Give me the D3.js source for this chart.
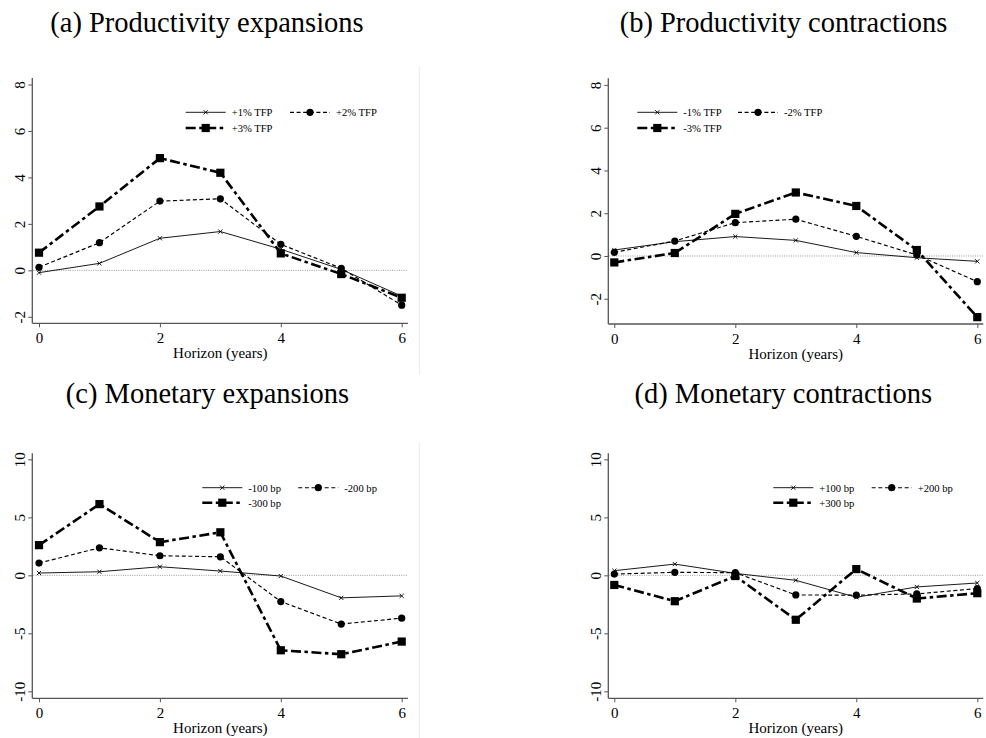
<!DOCTYPE html>
<html>
<head>
<meta charset="utf-8">
<script src="https://cdn.jsdelivr.net/npm/d3@7"></script>
<style>
  html, body { margin: 0; padding: 0; background: #fff; }
  svg { display: block; font-family: "Liberation Serif", "Times New Roman", serif; }
  svg text { font-family: "Liberation Serif", "Times New Roman", serif; }
</style>
</head>
<body>
<svg id="chart" width="986" height="738"></svg>
<script>
// ---------------- DATA ----------------
const horizon = [0, 1, 2, 3, 4, 5, 6];
const xTickValues = [0, 2, 4, 6];
const xLabel = "Horizon (years)";

const panelTitles = [
  "(a) Productivity expansions",
  "(b) Productivity contractions",
  "(c) Monetary expansions",
  "(d) Monetary contractions"
];

const yTicksProd = [-2, 0, 2, 4, 6, 8];
const yTicksMon = [-10, -5, 0, 5, 10];

// (a) Productivity expansions
const labelsA = ["+1% TFP", "+2% TFP", "+3% TFP"];
const tfpUp1 = [-0.10, 0.30, 1.38, 1.67, 0.91, 0.04, -1.11];
const tfpUp2 = [0.13, 1.19, 2.98, 3.08, 1.12, 0.09, -1.50];
const tfpUp3 = [0.76, 2.75, 4.83, 4.20, 0.73, -0.16, -1.18];

// (b) Productivity contractions
const labelsB = ["-1% TFP", "-2% TFP", "-3% TFP"];
const tfpDown1 = [0.28, 0.67, 0.91, 0.73, 0.16, -0.08, -0.25];
const tfpDown2 = [0.17, 0.70, 1.56, 1.72, 0.92, 0.05, -1.20];
const tfpDown3 = [-0.30, 0.14, 1.97, 2.97, 2.34, 0.28, -2.86];

// (c) Monetary expansions
const labelsC = ["-100 bp", "-200 bp", "-300 bp"];
const monExp1 = [0.20, 0.31, 0.74, 0.37, -0.06, -1.94, -1.77];
const monExp2 = [1.06, 2.37, 1.69, 1.60, -2.26, -4.20, -3.69];
const monExp3 = [2.60, 6.14, 2.86, 3.71, -6.46, -6.80, -5.71];

// (d) Monetary contractions
const labelsD = ["+100 bp", "+200 bp", "+300 bp"];
const monCon1 = [0.40, 0.97, 0.17, -0.43, -1.89, -1.00, -0.66];
const monCon2 = [0.11, 0.26, 0.23, -1.69, -1.71, -1.60, -1.14];
const monCon3 = [-0.83, -2.23, -0.06, -3.83, 0.54, -2.00, -1.54];

// ---------------- LAYOUT ----------------
const panels = [
  { title: panelTitles[0], titleX: 207, titleY: 32, axisX: 32.3, x0: 39, x6: 401.7, axisEnd: 408,
    yTop: 78, yBot: 323.3, domain: [-2.28, 8.28], ticks: yTicksProd,
    labels: labelsA, series: [tfpUp1, tfpUp2, tfpUp3],
    leg: { x1: 185.7, x2: 290, r1: 112.3, r2: 128 }, border: { x: 419.3, y1: 66, y2: 375 } },
  { title: panelTitles[1], titleX: 783.5, titleY: 32, axisX: 608.3, x0: 614.3, x6: 977.3, axisEnd: 983.3,
    yTop: 78.3, yBot: 324, domain: [-3.18, 8.31], ticks: yTicksProd,
    labels: labelsB, series: [tfpDown1, tfpDown2, tfpDown3],
    leg: { x1: 637.3, x2: 738, r1: 112.3, r2: 128 } },
  { title: panelTitles[2], titleX: 207.5, titleY: 403, axisX: 32.3, x0: 39, x6: 401.7, axisEnd: 408,
    yTop: 453.3, yBot: 698.3, domain: [-10.6, 10.52], ticks: yTicksMon,
    labels: labelsC, series: [monExp1, monExp2, monExp3],
    leg: { x1: 202.3, x2: 298.3, r1: 487.7, r2: 502.7 }, border: { x: 419.3, y1: 442, y2: 738 } },
  { title: panelTitles[3], titleX: 783.3, titleY: 403, axisX: 608.3, x0: 614.3, x6: 977.3, axisEnd: 983.3,
    yTop: 453.3, yBot: 698.3, domain: [-10.6, 10.52], ticks: yTicksMon,
    labels: labelsD, series: [monCon1, monCon2, monCon3],
    leg: { x1: 773.3, x2: 871.7, r1: 487.7, r2: 502.7 } }
];

const styles = [
  { width: 0.9, dash: null, marker: "x" },
  { width: 1.15, dash: "4,2.6", marker: "circle" },
  { width: 2.6, dash: "10,3.5,3.5,3.5", marker: "square" }
];

const FONT = "Liberation Serif";
const axisColor = "#555";
const svg = d3.select("#chart");

function drawMarker(g, kind, cx, cy) {
  if (kind === "x") {
    const s = 2.1;
    g.append("path")
      .attr("d", `M${cx - s},${cy - s}L${cx + s},${cy + s}M${cx - s},${cy + s}L${cx + s},${cy - s}`)
      .attr("stroke", "#000").attr("stroke-width", 0.9).attr("fill", "none");
  } else if (kind === "circle") {
    g.append("circle").attr("cx", cx).attr("cy", cy).attr("r", 3.6).attr("fill", "#000");
  } else {
    const h = 4.1;
    g.append("rect").attr("x", cx - h).attr("y", cy - h).attr("width", 2 * h).attr("height", 2 * h).attr("fill", "#000");
  }
}

panels.forEach(p => {
  const g = svg.append("g");
  const x = d3.scaleLinear().domain([0, 6]).range([p.x0, p.x6]);
  const y = d3.scaleLinear().domain(p.domain).range([p.yBot, p.yTop]);

  if (p.border) {
    g.append("line").attr("x1", p.border.x).attr("x2", p.border.x)
      .attr("y1", p.border.y1).attr("y2", p.border.y2)
      .attr("stroke", "#ececec").attr("stroke-width", 1);
  }

  // Title
  g.append("text").attr("x", p.titleX).attr("y", p.titleY)
    .attr("text-anchor", "middle").attr("font-size", 28.5).attr("font-family", FONT).attr("fill", "#000")
    .text(p.title);

  // zero reference line
  g.append("line").attr("x1", p.axisX + 1).attr("x2", p.axisEnd)
    .attr("y1", y(0)).attr("y2", y(0))
    .attr("stroke", "#999").attr("stroke-width", 1).attr("stroke-dasharray", "1,1.3");

  // Y axis
  const yAxis = d3.axisLeft(y).tickValues(p.ticks).tickSize(4).tickSizeOuter(0).tickFormat(d3.format("d"));
  const ya = g.append("g").attr("transform", `translate(${p.axisX},0)`).call(yAxis)
    .attr("font-family", FONT);
  ya.select(".domain").attr("stroke", axisColor).attr("stroke-width", 1.3)
    .attr("d", `M0,${p.yTop}V${p.yBot}`);
  ya.selectAll(".tick line").attr("stroke", axisColor).attr("stroke-width", 1);
  ya.selectAll(".tick text")
    .attr("x", null).attr("dy", null)
    .attr("transform", "translate(-7,0) rotate(-90)")
    .attr("text-anchor", "middle")
    .attr("font-size", 15).attr("font-family", FONT).attr("fill", "#000")
    .text(d => d < 0 ? "-" + Math.abs(d) : d);

  // X axis
  const xAxis = d3.axisBottom(x).tickValues(xTickValues).tickSize(4).tickSizeOuter(0).tickFormat(d3.format("d"));
  const xa = g.append("g").attr("transform", `translate(0,${p.yBot})`).call(xAxis)
    .attr("font-family", FONT);
  xa.select(".domain").attr("stroke", axisColor).attr("stroke-width", 1.3)
    .attr("d", `M${p.axisX},0H${p.axisEnd}`);
  xa.selectAll(".tick line").attr("stroke", axisColor).attr("stroke-width", 1);
  xa.selectAll(".tick text").attr("y", 20).attr("dy", null)
    .attr("font-size", 15).attr("font-family", FONT).attr("fill", "#000");

  g.append("text").attr("x", (p.x0 + p.x6) / 2).attr("y", p.yBot + 35)
    .attr("text-anchor", "middle").attr("font-size", 15).attr("font-family", FONT).attr("fill", "#000")
    .text(xLabel);

  // Series
  const line = d3.line().x((d, i) => x(horizon[i])).y(d => y(d));
  p.series.forEach((vals, si) => {
    const st = styles[si];
    const sg = g.append("g");
    sg.append("path").datum(vals).attr("d", line)
      .attr("fill", "none").attr("stroke", "#000").attr("stroke-width", st.width)
      .attr("stroke-dasharray", st.dash).attr("stroke-linejoin", "round");
    vals.forEach((v, i) => drawMarker(sg, st.marker, x(horizon[i]), y(v)));
  });

  // Legend
  const pos = [[p.leg.x1, p.leg.r1], [p.leg.x2, p.leg.r1], [p.leg.x1, p.leg.r2]];
  p.labels.forEach((lab, si) => {
    const st = styles[si];
    const [lx, ly] = pos[si];
    const lg = g.append("g");
    lg.append("line").attr("x1", lx).attr("x2", lx + 40).attr("y1", ly).attr("y2", ly)
      .attr("stroke", "#000").attr("stroke-width", st.width).attr("stroke-dasharray", st.dash);
    drawMarker(lg, st.marker, lx + 20, ly);
    lg.append("text").attr("x", lx + 46).attr("y", ly + 3.8)
      .attr("font-size", 10.6).attr("font-family", FONT).attr("fill", "#000").text(lab);
  });
});
</script>
</body>
</html>
